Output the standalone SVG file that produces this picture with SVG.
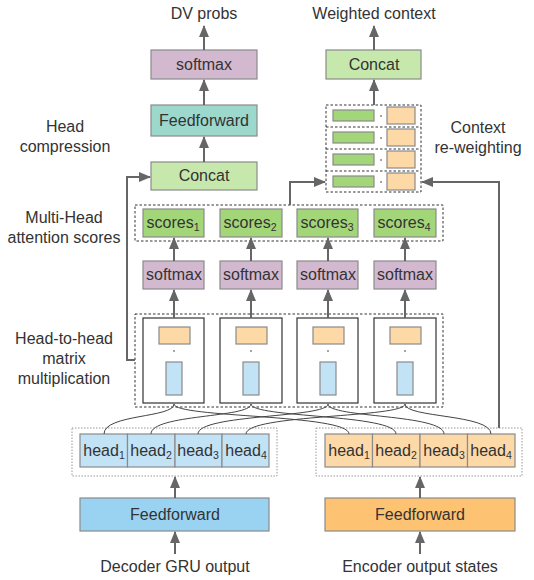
<svg xmlns="http://www.w3.org/2000/svg" width="534" height="580" viewBox="0 0 534 580">
<defs>
<marker id="ah" viewBox="0 0 12 10" refX="11" refY="5" markerWidth="6" markerHeight="5" orient="auto-start-reverse" markerUnits="strokeWidth">
<path d="M0,0 L12,5 L0,10 z" fill="#666"/>
</marker>
<style>
text{font-family:"Liberation Sans",Arial,sans-serif;font-size:16px;fill:#333;text-anchor:middle}
.sub{font-size:10.5px}
.box{stroke:#8a8a8a;stroke-width:1.2}
.pur{fill:#d3b9d0}.teal{fill:#9dd8cd}.lg{fill:#c7e8ad}.grn{fill:#a3d679}
.lb{fill:#c2e3f6}.blu{fill:#9ad3f2}.lo{fill:#fdd9a8}.org{fill:#fec372}
.dash{fill:none;stroke:#333;stroke-width:1;stroke-dasharray:2.5,2}
.dot{fill:none;stroke:#999;stroke-width:1;stroke-dasharray:1.5,1.5}
.mat{fill:#fff;stroke:#333;stroke-width:1.2}
.arr{fill:none;stroke:#666;stroke-width:2;marker-end:url(#ah)}
.cv{fill:none;stroke:#444;stroke-width:1}
</style>
</defs>

<!-- labels -->
<g id="labels">
<text x="204" y="19">DV probs</text>
<text x="374" y="19">Weighted context</text>
<text x="65" y="132">Head</text>
<text x="65" y="152">compression</text>
<text x="478" y="133">Context</text>
<text x="478" y="153">re-weighting</text>
<text x="64" y="223">Multi-Head</text>
<text x="64" y="243">attention scores</text>
<text x="64" y="344">Head-to-head</text>
<text x="64" y="364">matrix</text>
<text x="64" y="384">multiplication</text>
<text x="175" y="572">Decoder GRU output</text>
<text x="420" y="572">Encoder output states</text>
</g>

<g id="softmax-top"><rect class="box pur" x="151" y="50" width="106" height="29"/><text x="204" y="70">softmax</text></g>
<g id="feedforward-top"><rect class="box teal" x="151" y="105" width="106" height="31"/><text x="204" y="126">Feedforward</text></g>
<g id="concat-left"><rect class="box lg" x="151" y="162" width="106" height="28"/><text x="204" y="181">Concat</text></g>
<g id="concat-right"><rect class="box lg" x="326" y="50" width="95" height="29"/><text x="374" y="70">Concat</text></g>

<g id="reweight">
<rect class="dash" x="326" y="105" width="95" height="87"/>
<line x1="326" y1="127" x2="421" y2="127" stroke="#333" stroke-dasharray="2.5,2"/>
<line x1="326" y1="149" x2="421" y2="149" stroke="#333" stroke-dasharray="2.5,2"/>
<line x1="326" y1="171" x2="421" y2="171" stroke="#333" stroke-dasharray="2.5,2"/>
<rect class="box grn" x="333" y="110" width="41" height="11"/><rect class="box lo" x="387" y="107" width="28" height="17"/><circle cx="381" cy="116" r="0.8" fill="#333"/>
<rect class="box grn" x="333" y="132" width="41" height="11"/><rect class="box lo" x="387" y="129" width="28" height="17"/><circle cx="381" cy="138" r="0.8" fill="#333"/>
<rect class="box grn" x="333" y="154" width="41" height="11"/><rect class="box lo" x="387" y="151" width="28" height="17"/><circle cx="381" cy="160" r="0.8" fill="#333"/>
<rect class="box grn" x="333" y="176" width="41" height="11"/><rect class="box lo" x="387" y="173" width="28" height="17"/><circle cx="381" cy="182" r="0.8" fill="#333"/>
</g>

<g id="scores">
<rect class="dash" x="135" y="205" width="308" height="36"/>
<rect class="box grn" x="143" y="209" width="61" height="28"/><text x="173" y="228">scores<tspan class="sub" dy="3">1</tspan></text>
<rect class="box grn" x="220" y="209" width="62" height="28"/><text x="250" y="228">scores<tspan class="sub" dy="3">2</tspan></text>
<rect class="box grn" x="297" y="209" width="61" height="28"/><text x="327" y="228">scores<tspan class="sub" dy="3">3</tspan></text>
<rect class="box grn" x="374" y="209" width="62" height="28"/><text x="404" y="228">scores<tspan class="sub" dy="3">4</tspan></text>
</g>

<g id="softmax-row">
<rect class="box pur" x="143" y="261" width="61" height="28"/><text x="174" y="280">softmax</text>
<rect class="box pur" x="220" y="261" width="62" height="28"/><text x="251" y="280">softmax</text>
<rect class="box pur" x="297" y="261" width="61" height="28"/><text x="328" y="280">softmax</text>
<rect class="box pur" x="374" y="261" width="62" height="28"/><text x="405" y="280">softmax</text>
</g>

<g id="matmul">
<rect class="dash" x="135" y="314" width="308" height="93"/>
<rect class="mat" x="143" y="318" width="61" height="85"/><rect class="box lo" x="159" y="327" width="31" height="17"/><circle cx="174" cy="351" r="0.8" fill="#333"/><rect class="box lb" x="166" y="362" width="16" height="33"/>
<rect class="mat" x="220" y="318" width="62" height="85"/><rect class="box lo" x="236" y="327" width="31" height="17"/><circle cx="251" cy="351" r="0.8" fill="#333"/><rect class="box lb" x="243" y="362" width="16" height="33"/>
<rect class="mat" x="297" y="318" width="61" height="85"/><rect class="box lo" x="313" y="327" width="31" height="17"/><circle cx="328" cy="351" r="0.8" fill="#333"/><rect class="box lb" x="320" y="362" width="16" height="33"/>
<rect class="mat" x="374" y="318" width="62" height="85"/><rect class="box lo" x="390" y="327" width="31" height="17"/><circle cx="405" cy="351" r="0.8" fill="#333"/><rect class="box lb" x="397" y="362" width="16" height="33"/>
</g>

<g id="heads-dec">
<rect class="dot" x="72" y="428" width="205" height="48"/>
<rect class="box lb" x="80" y="434" width="47.5" height="33"/><text x="104" y="456">head<tspan class="sub" dy="3">1</tspan></text>
<rect class="box lb" x="127.5" y="434" width="47.5" height="33"/><text x="151" y="456">head<tspan class="sub" dy="3">2</tspan></text>
<rect class="box lb" x="175" y="434" width="47" height="33"/><text x="198" y="456">head<tspan class="sub" dy="3">3</tspan></text>
<rect class="box lb" x="222" y="434" width="47" height="33"/><text x="246" y="456">head<tspan class="sub" dy="3">4</tspan></text>
</g>

<g id="heads-enc">
<rect class="dot" x="316" y="428" width="206" height="48"/>
<rect class="box lo" x="325" y="434" width="47.5" height="33"/><text x="349" y="456">head<tspan class="sub" dy="3">1</tspan></text>
<rect class="box lo" x="372.5" y="434" width="47.5" height="33"/><text x="396" y="456">head<tspan class="sub" dy="3">2</tspan></text>
<rect class="box lo" x="420" y="434" width="47.5" height="33"/><text x="444" y="456">head<tspan class="sub" dy="3">3</tspan></text>
<rect class="box lo" x="467.5" y="434" width="47.5" height="33"/><text x="491" y="456">head<tspan class="sub" dy="3">4</tspan></text>
</g>

<g id="ff-dec"><rect class="box blu" x="80" y="498" width="189" height="33"/><text x="175" y="520">Feedforward</text></g>
<g id="ff-enc"><rect class="box org" x="325" y="498" width="190" height="33"/><text x="420" y="520">Feedforward</text></g>

<g id="connectors">
<line class="arr" x1="204" y1="50" x2="204" y2="26"/>
<line class="arr" x1="204" y1="105" x2="204" y2="80"/>
<line class="arr" x1="204" y1="162" x2="204" y2="137"/>
<line class="arr" x1="374" y1="50" x2="374" y2="26"/>
<line class="arr" x1="374" y1="105" x2="374" y2="80"/>
<path class="arr" d="M135,360 H127 V177 H150"/>
<path class="arr" d="M290,205 V182 H325"/>
<path class="arr" d="M499,428 V182 H422"/>
<line class="arr" x1="174" y1="261" x2="174" y2="238"/>
<line class="arr" x1="251" y1="261" x2="251" y2="238"/>
<line class="arr" x1="328" y1="261" x2="328" y2="238"/>
<line class="arr" x1="405" y1="261" x2="405" y2="238"/>
<line class="arr" x1="174" y1="318" x2="174" y2="290"/>
<line class="arr" x1="251" y1="318" x2="251" y2="290"/>
<line class="arr" x1="328" y1="318" x2="328" y2="290"/>
<line class="arr" x1="405" y1="318" x2="405" y2="290"/>
<line class="arr" x1="175" y1="498" x2="175" y2="477"/>
<line class="arr" x1="420" y1="498" x2="420" y2="477"/>
<line class="arr" x1="175" y1="554" x2="175" y2="532"/>
<line class="arr" x1="420" y1="554" x2="420" y2="532"/>
<path class="cv" d="M174,404 C174,418 104,414 104,434"/>
<path class="cv" d="M174,404 C174,418 349,414 349,434"/>
<path class="cv" d="M251,404 C251,418 151,414 151,434"/>
<path class="cv" d="M251,404 C251,418 396,414 396,434"/>
<path class="cv" d="M328,404 C328,418 198,414 198,434"/>
<path class="cv" d="M328,404 C328,418 444,414 444,434"/>
<path class="cv" d="M405,404 C405,418 246,414 246,434"/>
<path class="cv" d="M405,404 C405,418 491,414 491,434"/>
</g>
</svg>
